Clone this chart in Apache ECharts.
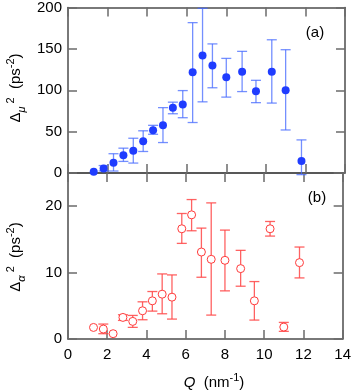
<!DOCTYPE html>
<html>
<head>
<meta charset="utf-8">
<script src="https://cdn.jsdelivr.net/npm/echarts@6/dist/echarts.min.js"></script>
<style>
  html, body { margin: 0; padding: 0; background: #fff; }
  #chart { width: 354px; height: 392px; }
</style>
</head>
<body>
<div id="chart"></div>
<script>
// Q values (nm^-1), shared by both panels
var qValues = [1.3, 1.8, 2.3, 2.8, 3.3, 3.8, 4.3, 4.8, 5.3, 5.8, 6.3, 6.8, 7.3, 8.0, 8.8, 9.5, 10.3, 11.0, 11.8];

// panel (a): Delta_mu^2 and its error range
var muValues = [1.5, 5.3, 12.5, 21.6, 27, 38.5, 51.7, 57.6, 78.9, 82.8, 121.7, 142, 130, 115.7, 122.4, 98.9, 122.4, 100, 14.4];
var muLow    = [1.5, 2.5, 2.4, 14, 12, 26, 46.8, 36.8, 71.6, 66.8, 61, 86, 103, 91.7, 98.4, 85, 84.5, 52, -2];
var muHigh   = [1.5, 9, 23.3, 30, 42, 51, 57.6, 79, 85.6, 99.6, 181.7, 199, 156, 138.5, 147, 112, 161, 149, 40];

// panel (b): Delta_alpha^2 and its error range
var alphaValues = [1.74, 1.5, 0.8, 3.25, 2.65, 4.25, 5.75, 6.75, 6.3, 16.6, 18.7, 13.1, 12, 11.85, 10.6, 5.75, 16.6, 1.8, 11.5];
var alphaLow    = [1.74, 0.8, 0.8, 2.8, 1.75, 2.9, 4.2, 3.8, 3.0, 14.4, 16.3, 9.3, 3.6, 7.25, 7.95, 2.85, 15.5, 1.15, 9.2];
var alphaHigh   = [1.74, 2.25, 0.8, 3.65, 3.55, 5.6, 7.15, 9.8, 9.65, 18.9, 21, 16.7, 20.5, 16.4, 13.35, 8.65, 17.7, 2.5, 13.85];

var xTicks = [0, 2, 4, 6, 8, 10, 12, 14];

var FONT = '"Liberation Sans", Arial, sans-serif';
var frameColor = '#4d4d4d';
var tickColor = '#6b6b6b';

function errRenderer(color){
    return function(params, api){
        var lo = api.coord([api.value(0), api.value(1)]);
        var hi = api.coord([api.value(0), api.value(2)]);
        if (Math.abs(lo[1] - hi[1]) < 0.5) return null;
        var cap = 5;
        var st = { stroke: color, lineWidth: 1.3 };
        return {
            type: 'group',
            children: [
                { type: 'line', shape: { x1: lo[0], y1: lo[1], x2: hi[0], y2: hi[1] }, style: st },
                { type: 'line', shape: { x1: lo[0] - cap, y1: lo[1], x2: lo[0] + cap, y2: lo[1] }, style: st },
                { type: 'line', shape: { x1: hi[0] - cap, y1: hi[1], x2: hi[0] + cap, y2: hi[1] }, style: st }
            ]
        };
    };
}

function xAxisFor(grid, pos, labels){
    return {
        gridIndex: grid, type: 'value', position: pos,
        min: 0, max: 14, interval: 2,
        axisLine: { show: true, onZero: false, lineStyle: { color: frameColor, width: 1.5 } },
        axisTick: { show: true, inside: true, length: 9, lineStyle: { color: tickColor, width: 1.5 } },
        axisLabel: { show: labels, color: '#000', fontSize: 15, fontFamily: FONT, margin: 8 },
        splitLine: { show: false }
    };
}

function yAxisFor(grid, pos, labels, max, interval){
    return {
        gridIndex: grid, type: 'value', position: pos,
        min: 0, max: max, interval: interval,
        axisLine: { show: true, onZero: false, lineStyle: { color: frameColor, width: 1.5 } },
        axisTick: { show: true, inside: true, length: 9, lineStyle: { color: tickColor, width: 1.5 } },
        axisLabel: {
            show: labels, color: '#000', fontSize: 15, fontFamily: FONT, margin: 6,
            formatter: function(v){ return (v % interval === 0) ? String(v) : ''; }
        },
        splitLine: { show: false }
    };
}

var muErr = qValues.map(function(q, i){ return [q, muLow[i], muHigh[i]]; });
var alphaErr = qValues.map(function(q, i){ return [q, alphaLow[i], alphaHigh[i]]; });

var rich = {
    b: { fontSize: 15, fontFamily: FONT, lineHeight: 22, color: '#000' },
    sub: { fontSize: 11, fontFamily: FONT, lineHeight: 10, verticalAlign: 'bottom', color: '#000', fontStyle: 'italic' },
    sup: { fontSize: 11, fontFamily: FONT, lineHeight: 12, verticalAlign: 'top', color: '#000' },
    it: { fontSize: 15, fontFamily: FONT, lineHeight: 22, fontStyle: 'italic', color: '#000' }
};

var option = {
    backgroundColor: '#fff',
    animation: false,
    grid: [
        { left: 68, top: 6, width: 277, height: 167 },
        { left: 68, top: 173, width: 277, height: 166 }
    ],
    xAxis: [
        xAxisFor(0, 'bottom', false),
        xAxisFor(0, 'top', false),
        xAxisFor(1, 'bottom', true),
        xAxisFor(1, 'top', false)
    ],
    yAxis: [
        yAxisFor(0, 'left', true, 200, 50),
        yAxisFor(0, 'right', false, 200, 50),
        yAxisFor(1, 'left', true, 25, 10),
        yAxisFor(1, 'right', false, 25, 10)
    ],
    graphic: [
        { type: 'text', x: 16, y: 88, rotation: Math.PI / 2,
          style: { text: '{b|Δ}{sub|μ}{sup| 2}{b|  (ps}{sup|-2}{b|)}', rich: rich, align: 'center', verticalAlign: 'middle' } },
        { type: 'text', x: 16, y: 257, rotation: Math.PI / 2,
          style: { text: '{b|Δ}{sub|α}{sup| 2}{b|  (ps}{sup|-2}{b|)}', rich: rich, align: 'center', verticalAlign: 'middle' } },
        { type: 'text', x: 214, y: 383,
          style: { text: '{it|Q}{b|  (nm}{sup|-1}{b|)}', rich: rich, align: 'center', verticalAlign: 'middle' } },
        { type: 'text', x: 315, y: 33,
          style: { text: '(a)', fontSize: 15, fontFamily: FONT, fill: '#000', align: 'center', verticalAlign: 'middle' } },
        { type: 'text', x: 317, y: 198,
          style: { text: '(b)', fontSize: 15, fontFamily: FONT, fill: '#000', align: 'center', verticalAlign: 'middle' } }
    ],
    series: [
        {
            type: 'custom', xAxisIndex: 0, yAxisIndex: 0,
            renderItem: errRenderer('rgba(70,105,255,0.75)'),
            encode: { x: 0, y: [1, 2] },
            data: muErr, z: 2, clip: false
        },
        {
            type: 'scatter', xAxisIndex: 0, yAxisIndex: 0,
            symbol: 'circle', symbolSize: 8,
            itemStyle: { color: '#1f3cff', opacity: 1 },
            data: qValues.map(function(q, i){ return [q, muValues[i]]; }),
            z: 3
        },
        {
            type: 'custom', xAxisIndex: 2, yAxisIndex: 2,
            renderItem: errRenderer('rgba(255,70,70,0.85)'),
            encode: { x: 0, y: [1, 2] },
            data: alphaErr, z: 2, clip: false
        },
        {
            type: 'scatter', xAxisIndex: 2, yAxisIndex: 2,
            symbol: 'circle', symbolSize: 8,
            itemStyle: { color: '#fff', borderColor: '#ff3b3b', borderWidth: 1, opacity: 1 },
            data: qValues.map(function(q, i){ return [q, alphaValues[i]]; }),
            z: 3
        }
    ]
};

echarts.init(document.getElementById('chart'), null, { renderer: 'canvas' }).setOption(option);
</script>
</body>
</html>
